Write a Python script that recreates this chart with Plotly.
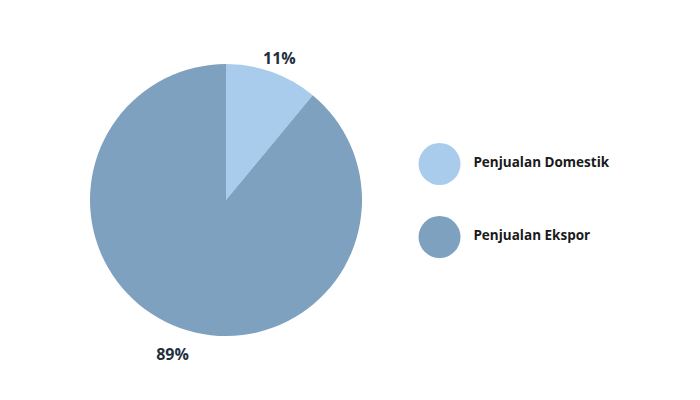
import plotly.graph_objects as go

categories = ["Penjualan Domestik", "Penjualan Ekspor"]
values = [11, 89]
colors = ["#a9cbec", "#7ea1bf"]
label_texts = [f"{v}%" for v in values]

total = sum(values)
mid_angles = []
acc = 0
for v in values:
    mid_angles.append((acc + v / 2) / total * 360)
    acc += v

# pie geometry (pixels): centre (226, 200), radius 136
W, H = 700, 400
cx, cy, rad = 226, 200, 136
pie_domain = dict(x=[(cx - rad) / W, (cx + rad) / W], y=[(H - cy - rad) / H, (H - cy + rad) / H])
polar_scale = 1.3
pr = rad * polar_scale
polar_domain = dict(x=[(cx - pr) / W, (cx + pr) / W], y=[(H - cy - pr) / H, (H - cy + pr) / H])

fig = go.Figure()

fig.add_trace(go.Pie(
    labels=categories,
    values=values,
    sort=False,
    direction="clockwise",
    rotation=0,
    marker=dict(colors=colors, line=dict(width=0)),
    textinfo="none",
    automargin=False,
    showlegend=False,
    hoverinfo="label+percent",
    domain=pie_domain,
))

# percentage labels placed outside the slices via a polar overlay
fig.add_trace(go.Scatterpolar(
    r=[1.16] * len(values),
    theta=mid_angles,
    mode="text",
    text=label_texts,
    textposition="bottom center",
    textfont=dict(family="Open Sans", size=16, color="#1e2f3d", weight="bold"),
    showlegend=False,
    hoverinfo="skip",
))

# custom legend: markers
fig.add_trace(go.Scatter(
    x=[0, 0],
    y=[1, 0],
    mode="markers",
    marker=dict(size=42, color=colors),
    cliponaxis=False,
    showlegend=False,
    hoverinfo="skip",
))
# custom legend: labels
fig.add_trace(go.Scatter(
    x=[0.13, 0.13],
    y=[1, 0],
    mode="text",
    text=categories,
    textposition="middle right",
    textfont=dict(family="Open Sans", size=13.5, color="#1a1a1a", weight="bold"),
    cliponaxis=False,
    showlegend=False,
    hoverinfo="skip",
))

fig.update_layout(
    width=W,
    height=H,
    margin=dict(l=0, r=0, t=0, b=0),
    paper_bgcolor="white",
    plot_bgcolor="white",
    polar=dict(
        domain=polar_domain,
        bgcolor="rgba(0,0,0,0)",
        radialaxis=dict(range=[0, polar_scale], visible=False),
        angularaxis=dict(direction="clockwise", rotation=90, visible=False),
    ),
    xaxis=dict(domain=[420/700, 1.0], range=[-0.075, 1], visible=False, fixedrange=True),
    yaxis=dict(domain=[(400-273.5)/400, (400-127.5)/400], range=[-0.5, 1.5], visible=False, fixedrange=True),
)

fig.write_html("out.html", config=dict(displayModeBar=False),
               post_script="document.body.style.margin='0';")
